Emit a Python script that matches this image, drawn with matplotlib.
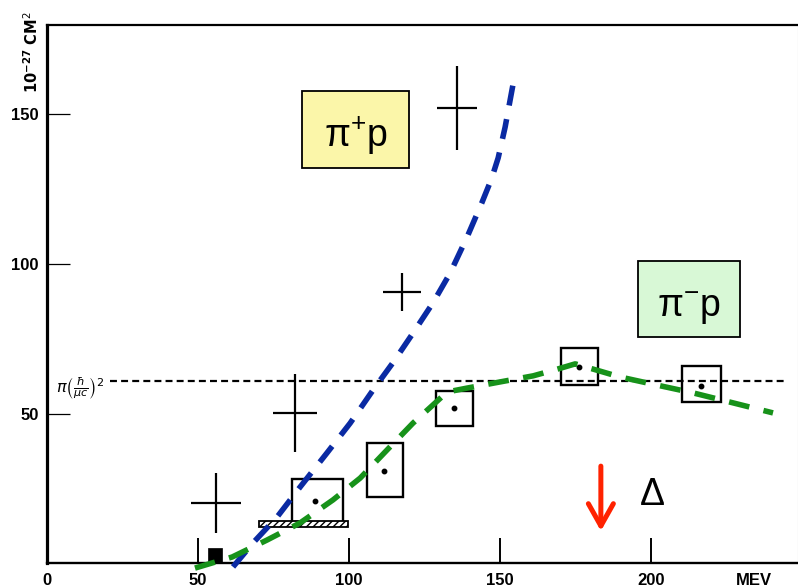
import matplotlib
matplotlib.use("Agg")
import matplotlib.pyplot as plt
from matplotlib.patches import Rectangle

plt.rcParams['lines.scale_dashes'] = False
plt.rcParams['mathtext.rm'] = 'Liberation Sans'
plt.rcParams['mathtext.it'] = 'Liberation Sans:italic'
plt.rcParams['mathtext.bf'] = 'Liberation Sans:bold'

# ---------------- data ----------------
# pi+ p measurements (crosses: value +- error)
plus_x = [56.0, 82.2, 117.6, 135.8]
plus_y = [20.1, 50.2, 90.6, 152.2]
plus_xerr = [8.3, 7.3, 6.3, 6.5]
plus_yerr = [10.0, 13.0, 6.4, 14.0]

# pi- p measurements (boxes with central dots)
minus_x = [88.8, 111.6, 134.8, 176.3, 216.7]
minus_y = [20.7, 30.8, 51.8, 65.7, 59.2]
minus_xlo = [81.2, 106.0, 128.8, 170.2, 210.3]
minus_xhi = [98.0, 117.9, 141.1, 182.5, 223.2]
minus_ylo = [13.4, 22.1, 45.8, 59.5, 53.8]
minus_yhi = [28.1, 40.1, 57.5, 71.9, 65.9]

# low-energy points
hatch_x = [70.2, 99.7]
hatch_y = [12.0, 14.0]
solid_x = [53.2, 58.0]
solid_y = [0.3, 5.0]

# theoretical curves
blue_x = [61.6, 68.2, 76.2, 83.8, 92.7, 100.4, 108.0, 114.7, 121.2, 127.8,
          133.5, 139.1, 144.0, 147.2, 149.4, 151.7, 154.3]
blue_y = [-1.3, 6.7, 15.4, 25.4, 36.8, 46.8, 57.9, 67.2, 76.9, 87.0,
          97.0, 109.0, 120.5, 128.5, 135.5, 145.8, 160.0]
green_x = [49.0, 61.3, 72.9, 83.8, 94.7, 103.7, 112.6, 121.2, 128.5, 132.5,
           139.1, 149.7, 161.0, 169.2, 174.9, 189.8, 202.0, 213.9, 226.2, 240.4]
green_y = [-1.7, 2.0, 7.7, 13.4, 21.1, 28.4, 37.8, 46.8, 53.5, 57.2,
           58.5, 60.5, 62.6, 64.9, 66.6, 62.2, 59.5, 56.9, 53.8, 50.2]

# geometric cross section pi (hbar / mu c)^2
geo_level = 60.9
geo_x = [21.0, 244.5]

x_ticks = [0, 50, 100, 150, 200]
y_ticks = [50, 100, 150]

# ---------------- figure ----------------
W, H = 798, 588
fig = plt.figure(figsize=(W / 100, H / 100), dpi=100)
ax = fig.add_axes([47 / W, 25 / H, 1 - 47 / W, 538 / H])
ax.set_xlim(0, (W - 47) / 3.02)
ax.set_ylim(0, 538 / 2.99)

ax.spines['left'].set_linewidth(2.3)
ax.spines['bottom'].set_linewidth(1.7)
ax.spines['top'].set_linewidth(1.6)
ax.spines['right'].set_linewidth(0.8)
ax.spines['right'].set_color('#bbbbbb')

ax.set_xticks(x_ticks)
ax.set_xticklabels([str(t) for t in x_ticks])
ax.set_yticks(y_ticks)
ax.set_yticklabels([str(t) for t in y_ticks])
ax.tick_params(axis='x', direction='in', length=18, width=1.4, pad=7,
               labelsize=12)
ax.tick_params(axis='y', direction='in', length=16.5, width=0.9, pad=6,
               labelsize=12)
for lab in ax.get_xticklabels() + ax.get_yticklabels():
    lab.set_fontfamily('Liberation Sans')
    lab.set_fontweight('bold')

ax.text(234.0, -3.3, 'MEV', ha='center', va='top', fontsize=12,
        fontweight='bold', family='Liberation Sans', clip_on=False)

# y label
fig.text(32 / W, 1 - 52 / H, r'$\mathbf{10^{-27}}$ CM$^{2}$', rotation=90,
         ha='center', va='center', fontsize=10.5, fontweight='bold')

# geometric line
ax.plot(geo_x, [geo_level, geo_level], color='black', lw=1.6,
        dashes=(5, 3), zorder=2)
ax.text(11.0, 58.5, r'$\pi\left(\frac{\hbar}{\mu c}\right)^{2}$',
        ha='center', va='center', fontsize=11.5)

# pi+ p crosses
ax.errorbar(plus_x, plus_y, xerr=plus_xerr, yerr=plus_yerr, fmt='none',
            ecolor='black', elinewidth=1.6, capsize=0, zorder=3)

# pi- p boxes
for xl, xh, yl, yh in zip(minus_xlo, minus_xhi, minus_ylo, minus_yhi):
    ax.add_patch(Rectangle((xl, yl), xh - xl, yh - yl, fill=False,
                           edgecolor='black', lw=1.7, zorder=3))
ax.plot(minus_x, minus_y, 'o', color='black', ms=3.2, zorder=3)

ax.add_patch(Rectangle((hatch_x[0], hatch_y[0]), hatch_x[1] - hatch_x[0],
                       hatch_y[1] - hatch_y[0], facecolor='white',
                       edgecolor='black', hatch='/////', lw=1.3, zorder=3))
ax.add_patch(Rectangle((solid_x[0], solid_y[0]), solid_x[1] - solid_x[0],
                       solid_y[1] - solid_y[0], facecolor='black',
                       edgecolor='black', lw=0.5, zorder=3))

# curves
ax.plot(blue_x, blue_y, color='#0A2AA3', lw=4.0, dashes=(14.5, 10),
        dash_capstyle='butt', dash_joinstyle='round', zorder=5, clip_on=False)
ax.plot(green_x, green_y, color='#17921A', lw=4.0, dashes=(15, 10.5),
        dash_capstyle='butt', dash_joinstyle='round', zorder=5, clip_on=False)

# labels in boxes
ax.add_patch(Rectangle((84.4, 132.1), 35.5, 25.8, facecolor='#FBF6A9',
                       edgecolor='black', lw=1.3, zorder=6))
ax.text(102.2, 139.1, r'$\mathrm{\pi^{+}p}$', math_fontfamily='custom',
        ha='center', va='baseline', fontsize=27, zorder=7)
ax.add_patch(Rectangle((195.7, 75.6), 33.8, 25.4, facecolor='#D8F8D6',
                       edgecolor='black', lw=1.3, zorder=6))
ax.text(212.6, 82.3, r'$\mathrm{\pi^{-}p}$', math_fontfamily='custom',
        ha='center', va='baseline', fontsize=27, zorder=7)

# Delta marker
ax.annotate('', xy=(183.4, 10.7), xytext=(183.4, 32.4),
            arrowprops=dict(arrowstyle='->,head_length=0.8,head_width=0.45',
                            color='#FF2200', lw=3.6, shrinkA=0, shrinkB=0,
                            mutation_scale=20), zorder=6)
ax.text(200.4, 19.4, 'Δ', ha='center', va='baseline', fontsize=27,
        family='Liberation Sans', zorder=6)

fig.savefig('out.png', dpi=100, facecolor='white')
